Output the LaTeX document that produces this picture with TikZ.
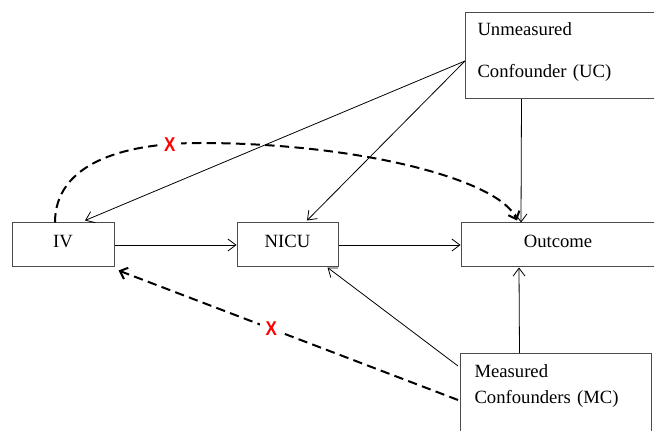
\documentclass[tikz,border=0pt]{standalone}
\usepackage{fontspec}
\setmainfont{Liberation Serif}
\newfontfamily\markfont{Liberation Sans}
\usetikzlibrary{arrows.meta,calc}
\tikzset{
  var/.style={draw=black!70,line width=0.75pt,minimum height=33pt,inner sep=0pt,text height=9.8pt,text depth=6pt},
  conf/.style={draw=black!70,line width=0.75pt,anchor=north west,align=left},
  link/.style={line width=0.6pt,-{Straight Barb[length=6pt,width=9pt]}},
  blocked/.style={line width=1.5pt,dash pattern=on 7pt off 4pt,-{Straight Barb[length=5pt,width=9pt]}},
  cross/.style={fill=white,text=red,font=\markfont\bfseries\fontsize{15}{15}\selectfont,inner xsep=5pt,inner ysep=1pt,xscale=0.85}
}
\begin{document}
\begin{tikzpicture}[x=0.75pt,y=-0.75pt,font=\fontsize{14}{16.8}\selectfont]
  \useasboundingbox (0,0) rectangle (654,431);
  \node[var,minimum width=76.5pt] (iv) at (63,245) {IV};
  \node[var,minimum width=75.75pt] (nicu) at (287.5,245) {NICU};
  \node[var,minimum width=145.5pt] (outcome) at (558,245) {Outcome};
  \node[conf,text width=126pt,inner xsep=9pt,inner ysep=7.3pt,text depth=40.3pt] (uc) at (465,12) {Unmeasured\\[15pt]Confounder (UC)};
  \node[conf,text width=122.25pt,inner xsep=10.5pt,inner ysep=8.4pt,text depth=60pt] (mc) at (460,353) {Measured\\[2.7pt]Confounders (MC)};
  % causal paths
  \draw[link] (iv.east) -- (nicu.west);
  \draw[link] (nicu.east) -- (outcome.west);
  \draw[link] ($(uc.north west)+(0,49)$) -- ($(iv.north)+(22,-2)$);
  \draw[link] ($(uc.north west)+(0,49)$) -- ($(nicu.north)+(19.5,-2)$);
  \draw[link] ($(uc.south)+(-40,0)$) -- ($(outcome.north)+(-37,0)$);
  \draw[link] ($(mc.north)+(-36.5,0)$) -- ($(outcome.south)+(-39,0)$);
  \draw[link] ($(mc.north west)+(-2,13)$) -- ($(nicu.south east)+(-11,0)$);
  % excluded paths
  \draw[blocked] ($(mc.north west)+(-2,47)$) -- ($(iv.south east)+(4,3)$) node[cross,pos=0.55] {X};
  \draw[blocked] ($(iv.north)+(-8,0)$) .. controls (55,165) and (120,143) .. (200,143) node[cross,pos=0.87] {X}
    .. controls (360,143) and (500,180) .. ($(outcome.north)+(-41,-2)$);
\end{tikzpicture}
\end{document}
